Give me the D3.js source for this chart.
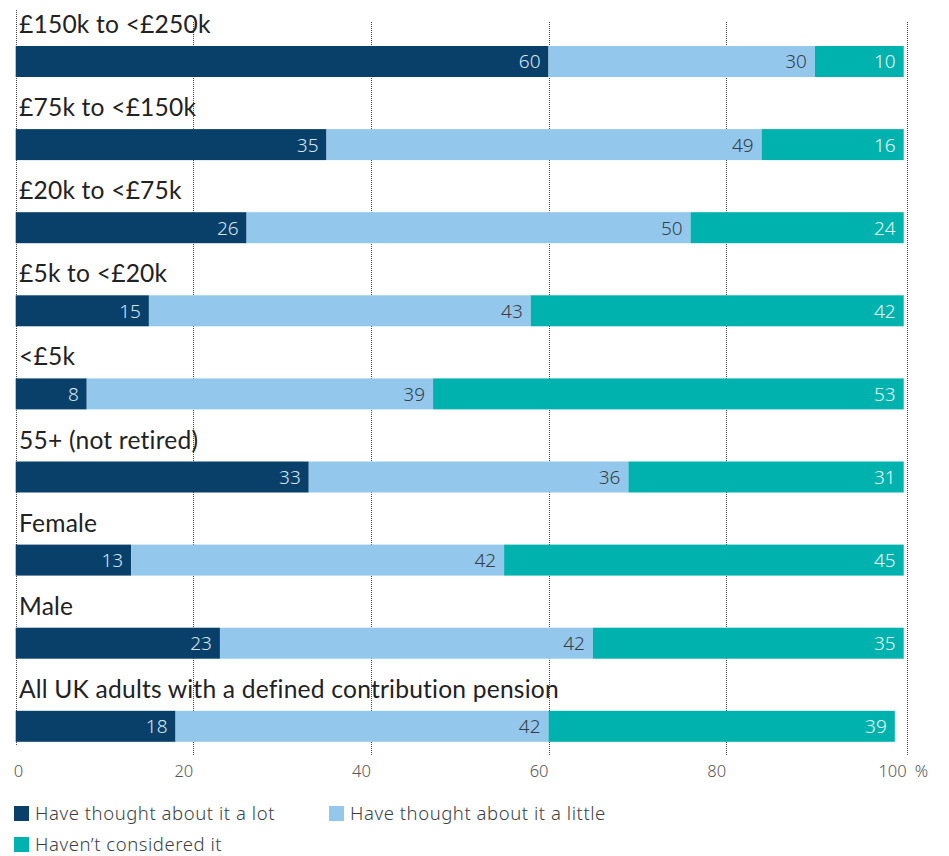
<!DOCTYPE html>
<html>
<head>
<meta charset="utf-8">
<script src="https://cdn.jsdelivr.net/npm/d3@7/dist/d3.min.js"></script>
<style>
  html, body { margin: 0; padding: 0; background: #fff; }
  svg { display: block; }
</style>
</head>
<body>
<svg id="chart" width="949" height="856"></svg>
<script>
const categories = [
  "£150k to <£250k",
  "£75k to <£150k",
  "£20k to <£75k",
  "£5k to <£20k",
  "<£5k",
  "55+ (not retired)",
  "Female",
  "Male",
  "All UK adults with a defined contribution pension"
];
const seriesNames = ["Have thought about it a lot", "Have thought about it a little", "Haven’t considered it"];
const thoughtLot    = [60, 35, 26, 15, 8, 33, 13, 23, 18];
const thoughtLittle = [30, 49, 50, 43, 39, 36, 42, 42, 42];
const notConsidered = [10, 16, 24, 42, 53, 31, 45, 35, 39];
const tickValues = [0, 20, 40, 60, 80, 100];

const colors = ["#08406a", "#93c8ec", "#00b2ad"];
const labelColors = ["#d8e6f1", "#383d46", "#e6f7f6"];

const rows = categories.map((c, i) => ({
  category: c,
  lot: thoughtLot[i],
  little: thoughtLittle[i],
  none: notConsidered[i]
}));
const keys = ["lot", "little", "none"];
const stack = d3.stack().keys(keys)(rows);

const svg = d3.select("#chart");
const x = d3.scaleLinear().domain([0, 100]).range([15.7, 903.7]);
const y = d3.scaleBand().domain(categories)
  .range([46, 46 + 8 * 83.1 + 31]).paddingInner(0.627).paddingOuter(0);

const fontCat = "Lato, 'Noto Sans', sans-serif";
const fontSmall = "'Noto Sans', Lato, sans-serif";

// gridlines
svg.append("g").selectAll("line").data(tickValues).join("line")
  .attr("x1", d => Math.round(x(d)) + 0.5 + (d === 100 ? 3 : 0))
  .attr("x2", d => Math.round(x(d)) + 0.5 + (d === 100 ? 3 : 0))
  .attr("y1", d => d === 0 ? 10 : 22)
  .attr("y2", d => d === 0 ? 745 : 756)
  .attr("stroke", "#444")
  .attr("stroke-width", 1)
  .attr("stroke-dasharray", "1,1");

// category labels
svg.append("g").selectAll("text").data(categories).join("text")
  .attr("x", 19)
  .attr("y", d => y(d) - 13)
  .attr("font-family", fontCat)
  .attr("font-size", 24.6)
  .attr("letter-spacing", 0.2)
  .attr("fill", "#222")
  .text(d => d);

// bars
const groups = svg.append("g").selectAll("g").data(stack).join("g")
  .attr("fill", (d, i) => colors[i]);
groups.selectAll("rect").data(d => d).join("rect")
  .attr("x", d => x(d[0]))
  .attr("y", d => y(d.data.category))
  .attr("width", d => x(d[1]) - x(d[0]))
  .attr("height", y.bandwidth());

// value labels
svg.append("g").selectAll("g").data(stack).join("g")
  .each(function(s, si) {
    d3.select(this).selectAll("text").data(s).join("text")
      .attr("x", d => x(d[1]) - 8)
      .attr("y", d => y(d.data.category) + y.bandwidth() / 2 + 7)
      .attr("text-anchor", "end")
      .attr("font-family", fontSmall)
      .attr("font-weight", 300)
      .attr("font-size", 19)
      .attr("fill", labelColors[si])
      .text(d => d.data[s.key]);
  });

// tick labels
svg.append("g").selectAll("text").data(tickValues).join("text")
  .attr("x", d => d === 0 ? x(d) - 2 : x(d) + (d === 100 ? 3 : 0))
  .attr("y", 777)
  .attr("text-anchor", d => d === 0 ? "start" : "end")
  .attr("font-family", fontSmall)
  .attr("font-weight", 300)
  .attr("font-size", 16.5)
  .attr("fill", "#555")
  .text(d => d);
svg.append("text")
  .attr("x", x(100) + 11)
  .attr("y", 777)
  .attr("font-family", fontSmall)
  .attr("font-weight", 300)
  .attr("font-size", 16.5)
  .attr("fill", "#555")
  .text("%");

// legend
const legendPos = [[14, 806], [329, 806], [14, 837]];
const lg = svg.append("g").selectAll("g").data(seriesNames).join("g")
  .attr("transform", (d, i) => `translate(${legendPos[i][0]},${legendPos[i][1]})`);
lg.append("rect").attr("width", 15).attr("height", 15)
  .attr("fill", (d, i) => colors[i]);
lg.append("text").attr("x", 21).attr("y", 14)
  .attr("font-family", fontSmall)
  .attr("font-weight", 300)
  .attr("font-size", 18.5)
  .attr("letter-spacing", 0.55)
  .attr("fill", "#3b3f45")
  .text(d => d);
</script>
</body>
</html>
